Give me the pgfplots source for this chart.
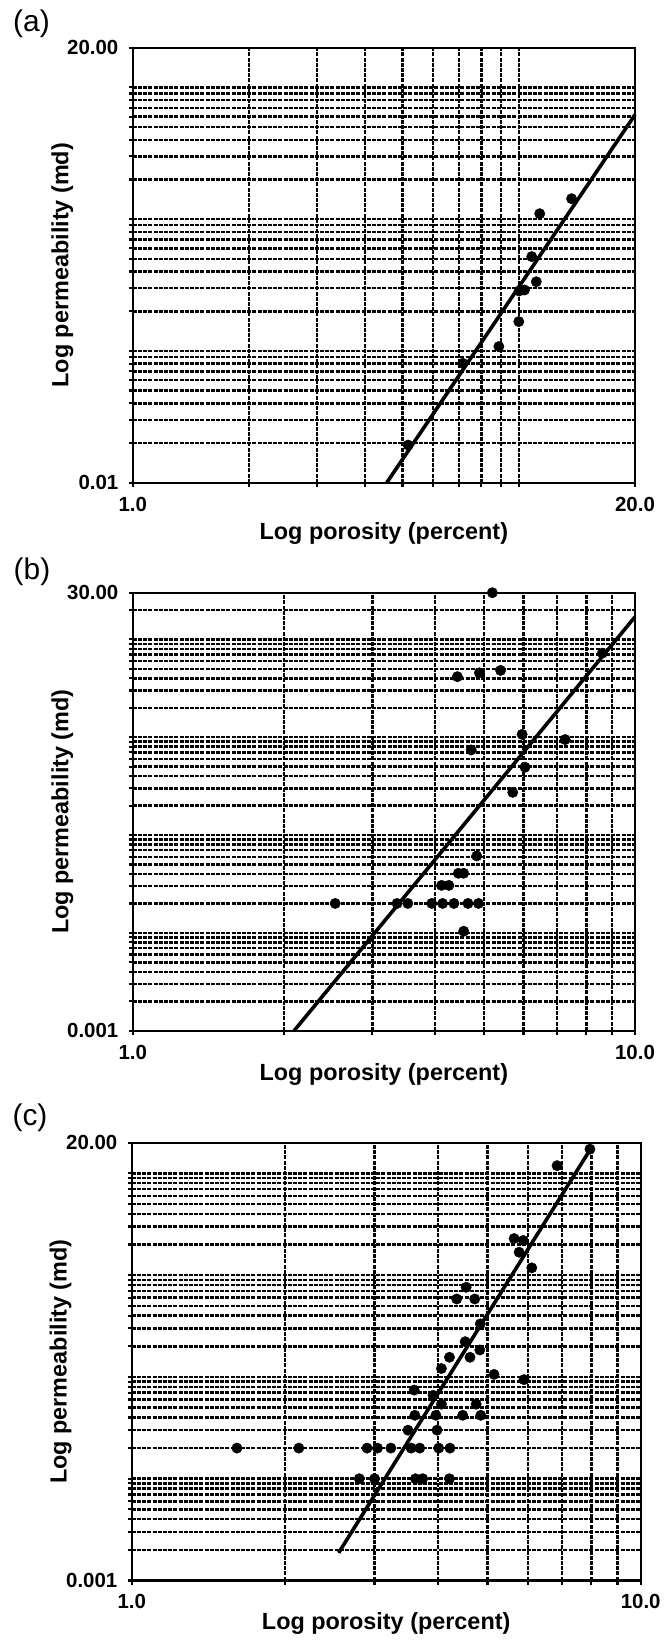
\documentclass[border=0pt]{standalone}
\usepackage{fontspec}
\setmainfont{Liberation Sans}
\usepackage{pgfplots}
\pgfplotsset{compat=1.18}

\newcommand\tlfont{\fontsize{20.5}{22}\selectfont\bfseries}
\newcommand\lblfont{\fontsize{23.5}{26}\selectfont\bfseries}
\newcommand\letfont{\fontsize{30}{32}\selectfont}

\pgfplotsset{
 every axis/.append style={
  scale only axis, clip=false,
  axis line style={line width=2.4bp},
  tick pos=left, tick align=outside,
  major tick length=4bp, minor tick length=4bp,
  tick style={line width=2.2bp, black},
  grid=minor,
  grid style={line width=2.5bp, black, dash pattern=on 4bp off 1.2bp},
  minor grid style={line width=2.5bp, black, dash pattern=on 4bp off 1.2bp},
  xticklabels={}, yticklabels={},
  xlabel={Log porosity (percent)},
  ylabel={Log permeability (md)},
 },
 every axis x label/.style={at={(axis description cs:0.5,0)}, anchor=base, font=\lblfont},
 every axis y label/.style={at={(axis description cs:-0.128,0.5)}, rotate=90, anchor=base, font=\lblfont},
}
\tikzset{
 tlx/.style={font=\tlfont, inner sep=0pt, anchor=north, yshift=-14bp},
 tly/.style={font=\tlfont, inner sep=0pt, anchor=east, xshift=-14.2bp},
}

\begin{document}
\begin{tikzpicture}
\useasboundingbox (0,0) rectangle (665bp,-1648bp);

\node[font=\letfont, anchor=center] at (31.5bp,-24bp) {(a)};
\node[font=\letfont, anchor=center] at (32bp,-572bp) {(b)};
\node[font=\letfont, anchor=center] at (30bp,-1117.5bp) {(c)};

% ---------------- (a)
\begin{loglogaxis}[
  at={(132.7bp,-47.7bp)}, anchor=north west,
  width=502.3bp, height=435bp,
  xmin=1, xmax=20, ymin=0.01, ymax=20,
  xtick={1,20}, ytick={0.01,20},
  minor xtick={2,3,4,5,6,7,8,9,10},
  minor ytick={0.02,0.03,0.04,0.05,0.06,0.07,0.08,0.09,0.1,0.2,0.3,0.4,0.5,0.6,0.7,0.8,0.9,1,2,3,4,5,6,7,8,9,10},
  xlabel style={yshift=-57bp},
]
\addplot[no markers, line width=3.6bp, black] coordinates {(4.55,0.01) (20,6.2)};
\addplot[only marks, mark=*, mark size=5.2bp, black] table {
x y
5.17 0.0193
7.16 0.0805
8.88 0.108
10.0 0.167
10.02 0.285
10.35 0.29
10.8 0.52
11.1 0.335
11.33 1.1
13.7 1.43
};
\node[tlx] at (axis description cs:0,0) {1.0};
\node[tlx] at (axis description cs:1,0) {20.0};
\node[tly] at (axis description cs:0,0) {0.01};
\node[tly] at (axis description cs:0,1) {20.00};
\end{loglogaxis}

% ---------------- (b)
\begin{loglogaxis}[
  at={(132.7bp,-592.7bp)}, anchor=north west,
  width=502.3bp, height=438bp,
  xmin=1, xmax=10, ymin=0.001, ymax=30,
  xtick={1,10}, ytick={0.001,30},
  minor xtick={2,3,4,5,6,7,8,9},
  minor ytick={0.002,0.003,0.004,0.005,0.006,0.007,0.008,0.009,0.01,0.02,0.03,0.04,0.05,0.06,0.07,0.08,0.09,0.1,0.2,0.3,0.4,0.5,0.6,0.7,0.8,0.9,1,2,3,4,5,6,7,8,9,10,20},
  xlabel style={yshift=-50bp},
]
\addplot[no markers, line width=3.6bp, black] coordinates {(2.096,0.001) (10,17.0)};
\addplot[only marks, mark=*, mark size=5.2bp, black] table {
x y
5.20 30
4.43 4.16
4.90 4.55
5.40 4.82
8.61 7.23
5.96 1.07
7.26 0.946
4.72 0.741
6.04 0.494
5.71 0.273
4.84 0.0612
4.45 0.0407
4.56 0.0407
4.12 0.0306
4.26 0.0306
2.53 0.02
3.36 0.02
3.53 0.02
3.94 0.02
4.14 0.02
4.36 0.02
4.65 0.02
4.88 0.02
4.56 0.0104
};
\node[tlx] at (axis description cs:0,0) {1.0};
\node[tlx] at (axis description cs:1,0) {10.0};
\node[tly] at (axis description cs:0,0) {0.001};
\node[tly] at (axis description cs:0,1) {30.00};
\end{loglogaxis}

% ---------------- (c)
\begin{loglogaxis}[
  at={(131.7bp,-1142.7bp)}, anchor=north west,
  width=509bp, height=437.8bp,
  xmin=1, xmax=10, ymin=0.001, ymax=20,
  xtick={1,10}, ytick={0.001,20},
  minor xtick={2,3,4,5,6,7,8,9},
  minor ytick={0.002,0.003,0.004,0.005,0.006,0.007,0.008,0.009,0.01,0.02,0.03,0.04,0.05,0.06,0.07,0.08,0.09,0.1,0.2,0.3,0.4,0.5,0.6,0.7,0.8,0.9,1,2,3,4,5,6,7,8,9,10},
  xlabel style={yshift=-48.5bp},
]
\addplot[no markers, line width=3.6bp, black] coordinates {(2.55,0.00187) (7.98,17.5)};
\addplot[only marks, mark=*, mark size=5.2bp, black] table {
x y
2.8 0.01
3.0 0.01
3.61 0.01
3.73 0.01
4.21 0.01
1.61 0.02
2.13 0.02
2.90 0.02
3.04 0.02
3.23 0.02
3.54 0.02
3.68 0.02
4.01 0.02
4.22 0.02
3.49 0.03
3.98 0.03
3.60 0.042
3.96 0.042
4.47 0.042
4.85 0.042
4.06 0.054
4.75 0.054
3.91 0.066
3.59 0.0743
4.06 0.121
5.15 0.106
5.90 0.094
4.21 0.156
4.62 0.156
4.83 0.184
4.52 0.222
4.84 0.332
4.35 0.583
4.72 0.583
4.54 0.76
6.11 1.18
5.77 1.68
5.64 2.29
5.88 2.19
6.85 11.9
7.95 17.3
};
\node[tlx] at (axis description cs:0,0) {1.0};
\node[tlx] at (axis description cs:1,0) {10.0};
\node[tly] at (axis description cs:0,0) {0.001};
\node[tly] at (axis description cs:0,1) {20.00};
\end{loglogaxis}
\end{tikzpicture}
\end{document}
